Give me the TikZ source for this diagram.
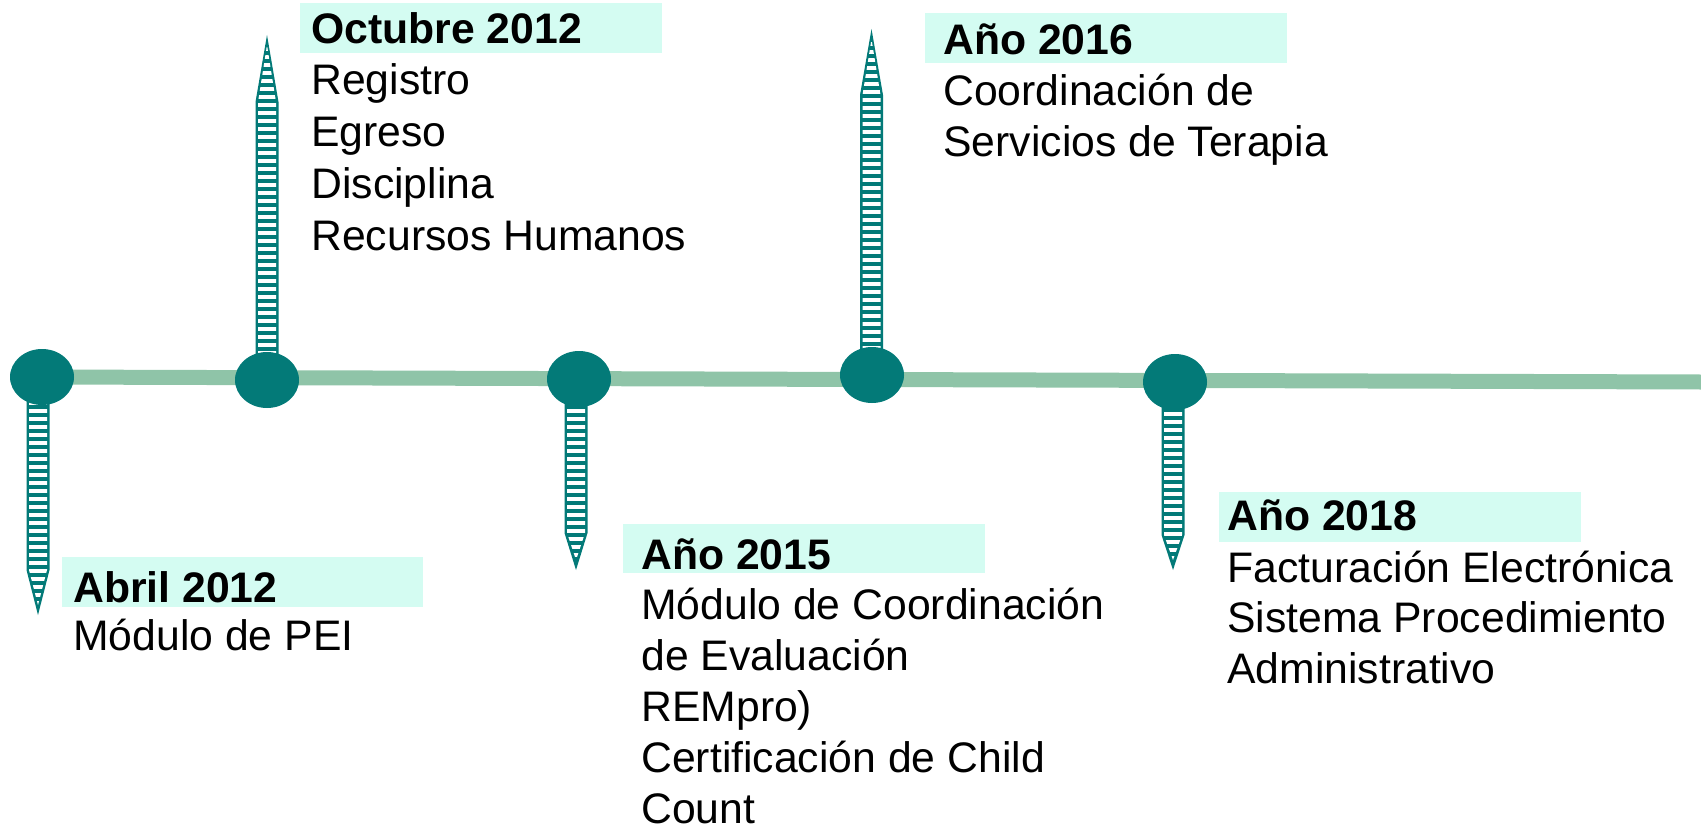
\documentclass[tikz,border=0pt]{standalone}
\usepackage{fontspec}
\setmainfont{Liberation Sans}
\usetikzlibrary{shapes.geometric}
\definecolor{pinteal}{RGB}{3,122,120}
\definecolor{linegreen}{RGB}{143,196,168}
\definecolor{boxfill}{RGB}{212,252,242}
\newcommand\mypin[5]{%
  \fill[pinteal] ({#1-11.5},#2) -- ({#1+11.5},#2) -- ({#1+11.5},#3) -- (#1,#4) -- ({#1-11.5},#3) -- cycle;
  \begin{scope}
    \clip ({#1-9},#2) -- ({#1+9},#2) -- ({#1+9},#3) -- (#1,{#4-#5*10}) -- ({#1-9},#3) -- cycle;
    \pgfmathsetmacro\ya{#2+#5*6}%
    \pgfmathsetmacro\yb{#2+#5*14}%
    \pgfmathsetmacro\yc{#4}%
    \foreach \yy in {\ya,\yb,...,\yc} \fill[white] ({#1-12},\yy) rectangle ({#1+12},{\yy+4.2});
  \end{scope}}
\tikzset{
  tl/.style={line width=7.5pt, draw=linegreen, line cap=butt},
  dot/.style={ellipse, fill=pinteal, inner sep=0pt, minimum width=32pt, minimum height=28pt},
  hd/.style={anchor=base west, inner sep=0pt, font=\fontsize{21.35}{25}\selectfont\bfseries},
  bd/.style={anchor=base west, inner sep=0pt, font=\fontsize{21.35}{25}\selectfont},
  hbox/.style={fill=boxfill}
}
\begin{document}
\begin{tikzpicture}[x=0.5pt,y=-0.5pt]
\useasboundingbox (0,0) rectangle (1701,829);
% centres of the dots
\coordinate (c1) at (42,377);
\coordinate (c2) at (267,380);
\coordinate (c3) at (579,379);
\coordinate (c4) at (872,375);
\coordinate (c5) at (1175,382);
\coordinate (rend) at (1701,382);
% time line
\draw[tl] (c1) -- (rend);
% pins
\mypin{38}{395}{570}{615}{1}
\mypin{267}{365}{102}{35}{-1}
\mypin{576}{395}{533}{570}{1}
\mypin{871.5}{360}{95}{29}{-1}
\mypin{1173}{398}{535}{570}{1}
% dots
\node[dot] (d1) at (c1) {};
\node[dot] (d2) at (c2) {};
\node[dot] (d3) at (c3) {};
\node[dot] (d4) at (c4) {};
\node[dot] (d5) at (c5) {};
% heading boxes
\fill[hbox] (62,557) rectangle (423,607);
\fill[hbox] (300,3) rectangle (662,53);
\fill[hbox] (623,524) rectangle (985,573);
\fill[hbox] (925,13) rectangle (1287,63);
\fill[hbox] (1219,492) rectangle (1581,542);
% Abril 2012
\node[hd] (a0) at (73,602) {Abril 2012};
\node[bd] (a1) at (73,650) {Módulo de PEI};
% Octubre 2012
\node[hd] (b0) at (311,44) {Octubre 2012};
\node[bd] (b1) at (311,95) {Registro};
\node[bd] (b2) at (311,147) {Egreso};
\node[bd] (b3) at (311,198) {Disciplina};
\node[bd] (b4) at (311,250) {Recursos Humanos};
% Año 2015
\node[hd] (e0) at (641,569) {Año 2015};
\node[bd] (e1) at (641,619) {Módulo de Coordinación};
\node[bd] (e2) at (641,670) {de Evaluación};
\node[bd] (e3) at (641,721) {REMpro)};
\node[bd] (e4) at (641,772) {Certificación de Child};
\node[bd] (e5) at (641,823) {Count};
% Año 2016
\node[hd] (f0) at (943,55) {Año 2016};
\node[bd] (f1) at (943,105) {Coordinación de};
\node[bd] (f2) at (943,156) {Servicios de Terapia};
% Año 2018
\node[hd] (g0) at (1227,530) {Año 2018};
\node[bd] (g1) at (1227,582) {Facturación Electrónica};
\node[bd] (g2) at (1227,632) {Sistema Procedimiento};
\node[bd] (g3) at (1227,683) {Administrativo};
\end{tikzpicture}
\end{document}
